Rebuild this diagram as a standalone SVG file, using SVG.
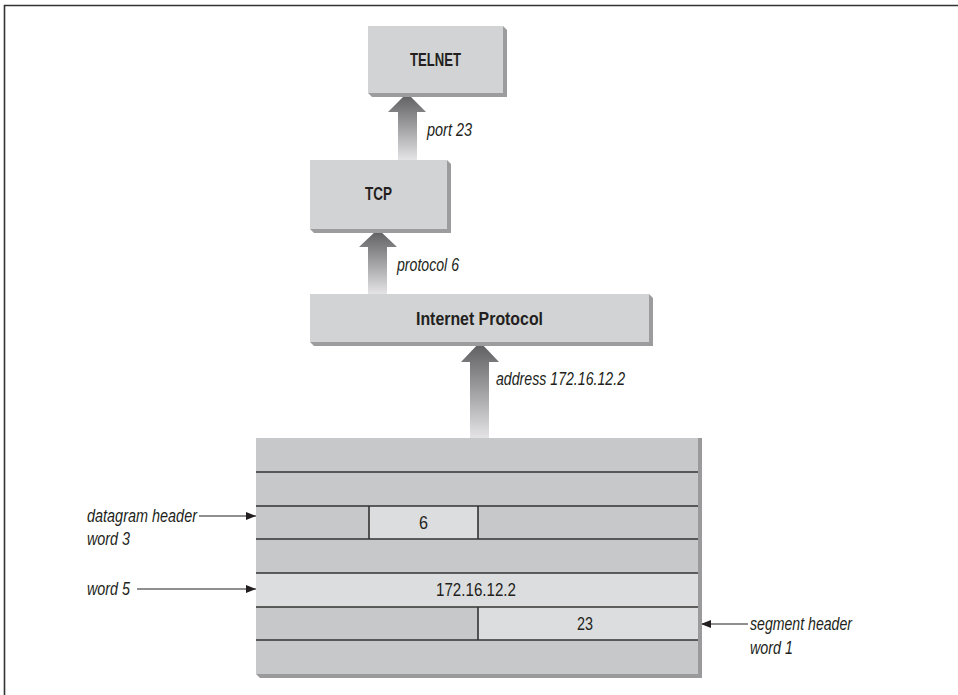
<svg xmlns="http://www.w3.org/2000/svg" width="958" height="695" viewBox="0 0 958 695">
<style>
.face{fill:#d2d3d5}
.ext{fill:#9c9c9e}
.bold{font-family:"Liberation Sans Narrow","Liberation Sans",Arial,sans-serif;font-weight:bold;font-size:19px;fill:#231f20}
.lbl{font-family:"Liberation Sans Narrow","Liberation Sans",Arial,sans-serif;font-style:italic;font-size:19px;fill:#231f20}
.val{font-family:"Liberation Sans Narrow","Liberation Sans",Arial,sans-serif;font-size:18px;fill:#231f20}
.dark{fill:#c7c8ca}
.light{fill:#dcdddf}
.rule{stroke:#333;stroke-width:1.6;fill:none}
.lead{stroke:#231f20;stroke-width:1.2;fill:none}
.fat{fill:url(#fg)}
</style>
<defs>
<linearGradient id="fg" x1="0" y1="0" x2="0" y2="1">
<stop offset="0" stop-color="#5c5c5e"/>
<stop offset="0.35" stop-color="#8a8a8c"/>
<stop offset="1" stop-color="#e4e4e6"/>
</linearGradient>
<marker id="ah" viewBox="0 0 10 8" refX="10" refY="4" markerWidth="10" markerHeight="8" markerUnits="userSpaceOnUse" orient="auto">
<path d="M0,0 L10,4 L0,8 z" fill="#231f20"/>
</marker>
</defs>

<g id="frame">
<path d="M4.5,695 V5.5 H958" stroke="#333" stroke-width="1.6" fill="none"/>
</g>

<g id="connectors">
<path class="fat" d="M398,160 V112 H388 L407,93 L426,112 H417 V160 Z"/>
<path class="fat" d="M368,294 V247 H359 L378,229 L397,247 H387 V294 Z"/>
<path class="fat" d="M470,438 V362 H461 L480,342 L499,362 H489 V438 Z"/>
<line class="lead" x1="199" y1="516" x2="256" y2="516" marker-end="url(#ah)"/>
<line class="lead" x1="137" y1="589" x2="256" y2="589" marker-end="url(#ah)"/>
<line class="lead" x1="748" y1="624" x2="701" y2="624" marker-end="url(#ah)"/>
<text class="lbl" x="427" y="136" textLength="45" lengthAdjust="spacingAndGlyphs">port 23</text>
<text class="lbl" x="397" y="271" textLength="62" lengthAdjust="spacingAndGlyphs">protocol 6</text>
<text class="lbl" x="496" y="385" textLength="129" lengthAdjust="spacingAndGlyphs">address 172.16.12.2</text>
</g>

<g id="telnet">
<polygon class="ext" points="503,26 507,30 507,97 372,97 368,93 503,93"/>
<rect class="face" x="368" y="26" width="135" height="67"/>
<text class="bold" x="435.5" y="66" text-anchor="middle" textLength="51" lengthAdjust="spacingAndGlyphs">TELNET</text>
</g>

<g id="tcp">
<polygon class="ext" points="447,160 451,164 451,233 314,233 310,229 447,229"/>
<rect class="face" x="310" y="160" width="137" height="69"/>
<text class="bold" x="378.5" y="200" text-anchor="middle" textLength="27" lengthAdjust="spacingAndGlyphs">TCP</text>
</g>

<g id="ip">
<polygon class="ext" points="649,294 653,298 653,346 314,346 310,342 649,342"/>
<rect class="face" x="310" y="294" width="339" height="48"/>
<text class="bold" x="479.5" y="325" text-anchor="middle" textLength="127" lengthAdjust="spacingAndGlyphs">Internet Protocol</text>
</g>

<g id="packet">
<polygon fill="#9a9a9c" points="698,438 702,438 702,678 260,678 256,674 698,674"/>
<rect class="dark" x="256" y="438" width="442" height="236"/>
<rect class="light" x="369" y="506" width="109" height="33"/>
<rect class="light" x="256" y="573" width="442" height="34"/>
<rect class="light" x="478" y="607" width="220" height="33"/>
<path class="rule" d="M256,472 H698 M256,506 H698 M256,539 H698 M256,573 H698 M256,607 H698 M256,640 H698 M369,506 V539 M478,506 V539 M478,607 V640"/>
<text class="val" x="423.5" y="529" text-anchor="middle" textLength="9" lengthAdjust="spacingAndGlyphs">6</text>
<text class="val" x="476" y="596" text-anchor="middle" textLength="80" lengthAdjust="spacingAndGlyphs">172.16.12.2</text>
<text class="val" x="585" y="630" text-anchor="middle" textLength="16" lengthAdjust="spacingAndGlyphs">23</text>
</g>

<g id="labels">
<text class="lbl" x="87" y="522" textLength="110" lengthAdjust="spacingAndGlyphs">datagram header</text>
<text class="lbl" x="87" y="545" textLength="43" lengthAdjust="spacingAndGlyphs">word 3</text>
<text class="lbl" x="87" y="595" textLength="43" lengthAdjust="spacingAndGlyphs">word 5</text>
<text class="lbl" x="750" y="630" textLength="102" lengthAdjust="spacingAndGlyphs">segment header</text>
<text class="lbl" x="750" y="654" textLength="43" lengthAdjust="spacingAndGlyphs">word 1</text>
</g>
</svg>
